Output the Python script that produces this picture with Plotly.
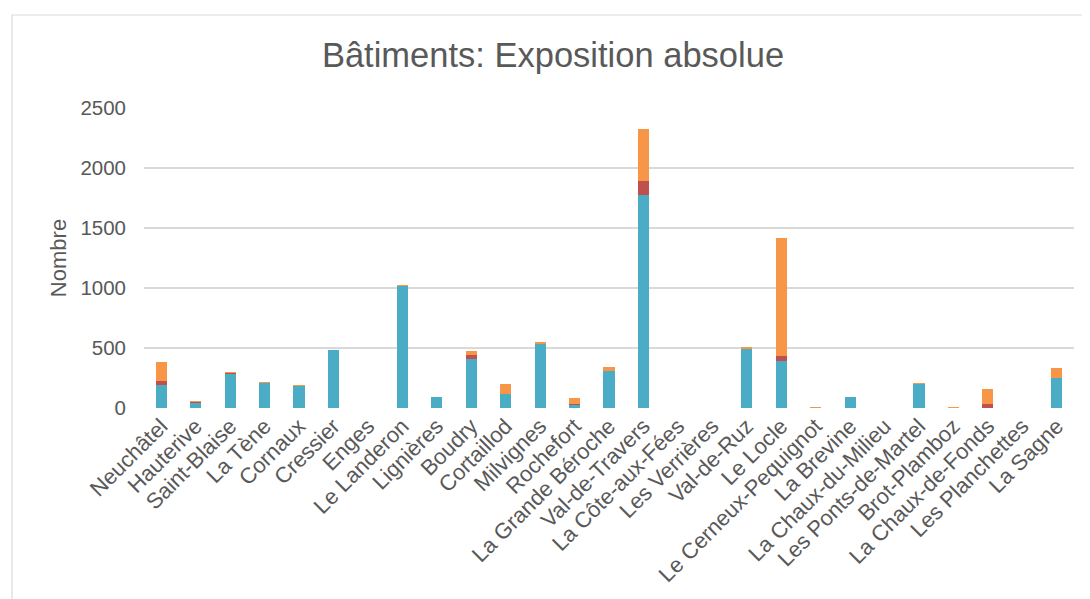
import plotly.graph_objects as go

communes = [
    "Neuchâtel", "Hauterive", "Saint-Blaise", "La Tène", "Cornaux", "Cressier",
    "Enges", "Le Landeron", "Lignières", "Boudry", "Cortaillod", "Milvignes",
    "Rochefort", "La Grande Béroche", "Val-de-Travers", "La Côte-aux-Fées",
    "Les Verrières", "Val-de-Ruz", "Le Locle", "Le Cerneux-Pequignot",
    "La Brevine", "La Chaux-du-Milieu", "Les Ponts-de-Martel", "Brot-Plamboz",
    "La Chaux-de-Fonds", "Les Planchettes", "La Sagne",
]

# three stacked exposure classes (bottom to top)
expo_faible = [190, 45, 290, 210, 186, 483, 0, 1020, 92, 408, 120, 540,
               25, 310, 1772, 0, 0, 490, 389, 2, 92, 0, 200, 1, 0, 0, 253]
expo_moyenne = [38, 6, 2, 1, 0, 0, 0, 0, 0, 34, 0, 0,
                10, 0, 122, 0, 0, 0, 47, 0, 0, 0, 1, 0, 36, 0, 0]
expo_forte = [155, 5, 5, 4, 1, 0, 0, 2, 0, 33, 83, 5,
              50, 32, 434, 0, 0, 20, 980, 1, 0, 0, 1, 1, 122, 0, 78]

y_ticks = [0, 500, 1000, 1500, 2000, 2500]

fig = go.Figure()
fig.add_trace(go.Bar(x=communes, y=expo_faible, name="Faible", marker=dict(color="#4BACC6", line=dict(width=0))))
fig.add_trace(go.Bar(x=communes, y=expo_moyenne, name="Moyenne", marker=dict(color="#C0504D", line=dict(width=0))))
fig.add_trace(go.Bar(x=communes, y=expo_forte, name="Forte", marker=dict(color="#F79646", line=dict(width=0))))

fig.update_layout(
    barmode="stack",
    bargap=0.68,
    width=1090,
    height=599,
    showlegend=False,
    paper_bgcolor="white",
    plot_bgcolor="white",
    font=dict(family="Liberation Sans, Arial, sans-serif", color="#595959"),
    title=dict(text="Bâtiments: Exposition absolue", x=0.5, xanchor="center",
               y=0.9215, yanchor="middle", font=dict(size=34.5, color="#595959")),
    # page has an 8px body margin, so everything is shifted back by 8px
    margin=dict(l=136, r=24, t=100, b=199),
)

fig.update_xaxes(
    tickangle=-45,
    tickfont=dict(size=22, color="#595959"),
    showgrid=False,
    showline=False,
    ticks="",
    automargin=False,
)
fig.update_yaxes(
    range=[0, 2500],
    tickvals=y_ticks,
    tickfont=dict(size=20.5, color="#595959"),
    ticklabelstandoff=17,
    title=dict(text="Nombre", font=dict(size=22, color="#595959"), standoff=7),
    gridcolor="#D9D9D9",
    gridwidth=1.5,
    zeroline=False,
    showline=False,
    ticks="",
    automargin=False,
)

# chart frame (only left and top edges fall inside the picture)
fig.add_shape(type="rect", xref="paper", yref="paper",
              x0=-0.1419, x1=1.2, y0=-1.0, y1=1.31,
              line=dict(color="#D9D9D9", width=1.2), layer="below")

fig.write_html("out.html")
